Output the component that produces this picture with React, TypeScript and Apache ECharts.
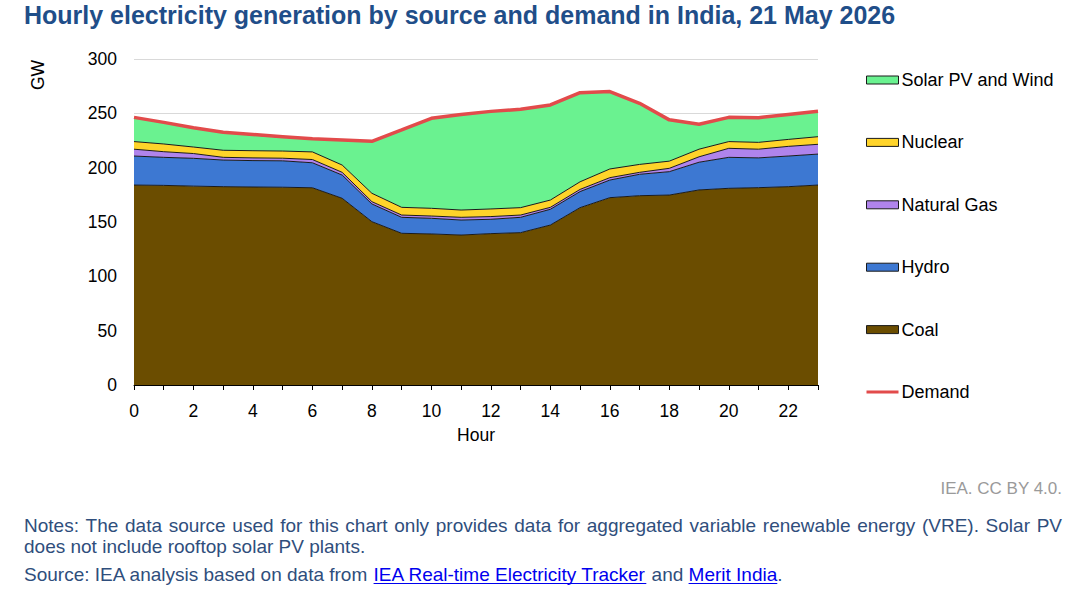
import React, { useEffect, useRef } from "react";
import * as echarts from "echarts";

const hours = ["0","1","2","3","4","5","6","7","8","9","10","11","12","13","14","15","16","17","18","19","20","21","22","23"];
const coal = [184, 183.7, 183, 182.5, 182.2, 182, 181.5, 171.8, 150.3, 139.6, 139, 138, 139.3, 140.2, 147.2, 163.2, 172.4, 174.2, 174.8, 179.5, 181, 181.6, 182.5, 184];
const hydro = [26.7, 25.8, 25.6, 24.5, 24.3, 24.3, 23, 21.4, 16.3, 14.7, 14.4, 13.8, 13.2, 14.1, 14.5, 14.8, 16.2, 19.7, 21.5, 25.5, 28.5, 27.4, 28.2, 28.5];
const gas = [6.3, 5.2, 4.4, 2.5, 2.5, 2.4, 3, 2.5, 2.1, 2.1, 2.1, 2.5, 2.5, 2.1, 1.8, 2, 2.2, 1.8, 3.1, 5, 8.3, 8, 8.9, 9];
const nuclear = [7, 7.1, 6, 6.5, 6.6, 6.6, 7, 6.7, 7.7, 7.1, 7.1, 6.7, 7, 6.8, 6.7, 7, 8, 7.3, 6.6, 7, 6.2, 6.3, 6.4, 7];
const solarWind = [22.3, 19.9, 17.8, 16.5, 14.4, 12.7, 12, 23.1, 47.8, 71.2, 82.8, 88, 89.8, 90.5, 87.5, 82, 71.2, 56.2, 38, 23, 22.3, 22.7, 23, 23.5];
const demand = [246.3, 241.7, 236.8, 232.5, 230.5, 228.5, 226.5, 225.5, 224.2, 234.7, 245.4, 249, 251.8, 253.7, 257.7, 269, 270, 259.2, 244, 240, 246.3, 246, 249, 252];

const yTicks = { min: 0, max: 300, interval: 50 };

const TITLE = "Hourly electricity generation by source and demand in India, 21 May 2026";
const NOTE1 = "Notes: The data source used for this chart only provides data for aggregated variable renewable energy (VRE). Solar PV";
const NOTE2 = "does not include rooftop solar PV plants.";
const SRC_PREFIX = "Source: IEA analysis based on data from ";
const SRC_LINK1 = "IEA Real-time Electricity Tracker";
const SRC_MID = " and ";
const SRC_LINK2 = "Merit India";
const SRC_END = ".";
const CREDIT = "IEA. CC BY 4.0.";

const FF = '"Liberation Sans", Arial, Helvetica, sans-serif';
const C = {
  solar: "#6AF290",
  nuclear: "#FFD42A",
  gas: "#B084EC",
  hydro: "#3D78D2",
  coal: "#6B4D00",
  demand: "#E24B4B",
  title: "#1F4E89",
  note: "#2F4E7C",
  link: "#0000EE",
};

export default function App() {
  const ref = useRef<HTMLDivElement>(null);
  useEffect(() => {
    if (!ref.current) return;
    const chart = echarts.init(ref.current, null, { renderer: "svg" });

    const noteFont = `19px ${FF}`;
    const cv = document.createElement("canvas").getContext("2d")!;
    cv.font = noteFont;
    const w = (s: string) => cv.measureText(s).width;
    const x0 = 24;
    const xL1 = x0 + w(SRC_PREFIX);
    const xMid = xL1 + w(SRC_LINK1);
    const xL2 = xMid + w(SRC_MID);
    const xEnd = xL2 + w(SRC_LINK2);
    const srcY = 574;

    const txt = (text: string, x: number, y: number, fill: string, extra: any = {}) => ({
      type: "text",
      x,
      y,
      style: { text, x: 0, y: 0, fill, font: noteFont, textVerticalAlign: "middle", verticalAlign: "middle", ...extra },
    });

    // justified first note line
    const words = NOTE1.split(" ");
    const wordsW = words.reduce((s, wd) => s + w(wd), 0);
    const lineEnd = 1062;
    const gap = (lineEnd - x0 - wordsW) / (words.length - 1);
    const note1Els: any[] = [];
    let cx = x0;
    words.forEach((wd) => {
      note1Els.push(txt(wd, cx, 525, C.note));
      cx += w(wd) + gap;
    });

    const area = (name: string, data: number[], color: string) => ({
      name,
      type: "line",
      stack: "gen",
      data,
      symbol: "none",
      showSymbol: false,
      lineStyle: { color: "#1a1a1a", width: 1 },
      itemStyle: { color },
      areaStyle: { color, opacity: 1 },
    });

    chart.setOption({
      animation: false,
      backgroundColor: "#ffffff",
      title: {
        text: TITLE,
        left: 24,
        top: 2,
        padding: 0,
        textStyle: { fontFamily: FF, fontSize: 25, fontWeight: "bold", color: C.title },
      },
      grid: { left: 134, right: 262, top: 59, bottom: 209, containLabel: false },
      legend: {
        orient: "vertical",
        left: 866,
        top: 71,
        padding: 0,
        itemWidth: 32,
        itemHeight: 8,
        itemGap: 44.4,
        textStyle: { fontFamily: FF, fontSize: 18, color: "#000", lineHeight: 18, padding: [0, 0, 0, -2] },
        data: [
          { name: "Solar PV and Wind", icon: "rect", itemStyle: { color: C.solar, borderColor: "#1a1a1a", borderWidth: 1 } },
          { name: "Nuclear", icon: "rect", itemStyle: { color: C.nuclear, borderColor: "#1a1a1a", borderWidth: 1 } },
          { name: "Natural Gas", icon: "rect", itemStyle: { color: C.gas, borderColor: "#1a1a1a", borderWidth: 1 } },
          { name: "Hydro", icon: "rect", itemStyle: { color: C.hydro, borderColor: "#1a1a1a", borderWidth: 1 } },
          { name: "Coal", icon: "rect", itemStyle: { color: C.coal, borderColor: "#1a1a1a", borderWidth: 1 } },
          { name: "Demand", icon: "path://M0,0h32v0.01h-32z M0,2.6h32v2.8h-32z M0,7.99h32v0.01h-32z", itemStyle: { color: C.demand, borderWidth: 0 } },
        ],
      },
      xAxis: {
        type: "category",
        data: hours,
        boundaryGap: false,
        name: "Hour",
        nameLocation: "middle",
        nameGap: 41,
        nameTextStyle: { fontFamily: FF, fontSize: 17.5, color: "#000" },
        axisLine: { show: true, lineStyle: { color: "#000", width: 1 } },
        axisTick: { show: true, interval: 0, length: 5, lineStyle: { color: "#000" } },
        axisLabel: { interval: 1, margin: 17, fontFamily: FF, fontSize: 17.5, color: "#000" },
        splitLine: { show: false },
      },
      yAxis: {
        type: "value",
        min: yTicks.min,
        max: yTicks.max,
        interval: yTicks.interval,
        axisLine: { show: false },
        axisTick: { show: false },
        axisLabel: { margin: 17, fontFamily: FF, fontSize: 17.5, color: "#000" },
        splitLine: { show: true, lineStyle: { color: "#D9D9D9", width: 1 } },
      },
      series: [
        area("Coal", coal, C.coal),
        area("Hydro", hydro, C.hydro),
        area("Natural Gas", gas, C.gas),
        area("Nuclear", nuclear, C.nuclear),
        area("Solar PV and Wind", solarWind, C.solar),
        {
          name: "Demand",
          type: "line",
          data: demand,
          symbol: "none",
          showSymbol: false,
          z: 5,
          lineStyle: { color: C.demand, width: 3.5 },
          itemStyle: { color: C.demand },
        },
      ],
      graphic: [
        {
          type: "text",
          x: 38,
          y: 75,
          rotation: Math.PI / 2,
          style: { text: "GW", x: 0, y: 0, fill: "#000", font: `17.5px ${FF}`, textAlign: "center", textVerticalAlign: "middle", verticalAlign: "middle" },
        },
        txt(CREDIT, 1062, 488, "#9A9A9A", { textAlign: "right", font: `17px ${FF}` }),
        ...note1Els,
        txt(NOTE2, x0, 546, C.note),
        txt(SRC_PREFIX, x0, srcY, C.note),
        txt(SRC_LINK1, xL1, srcY, C.link),
        txt(SRC_MID, xMid, srcY, C.note),
        txt(SRC_LINK2, xL2, srcY, C.link),
        txt(SRC_END, xEnd, srcY, C.note),
        { type: "line", shape: { x1: xL1, y1: srcY + 9.5, x2: xMid, y2: srcY + 9.5 }, style: { stroke: C.link, lineWidth: 1.2 } },
        { type: "line", shape: { x1: xL2, y1: srcY + 9.5, x2: xEnd, y2: srcY + 9.5 }, style: { stroke: C.link, lineWidth: 1.2 } },
      ],
    });
    return () => chart.dispose();
  }, []);

  return (
    <div
      ref={ref}
      style={{ position: "absolute", left: 0, top: 0, width: 1080, height: 594, background: "#fff" }}
    />
  );
}
